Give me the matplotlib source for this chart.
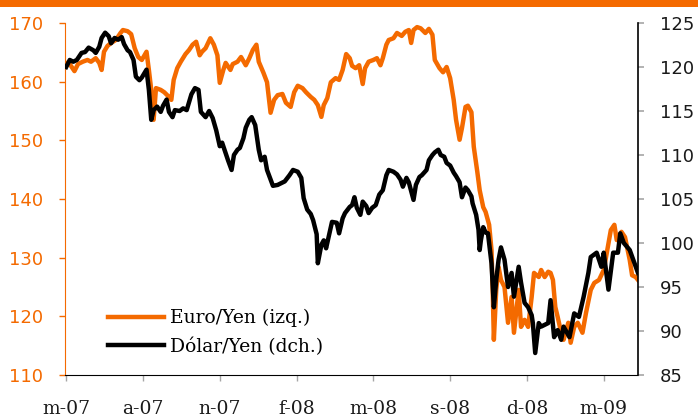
import matplotlib
matplotlib.use('Agg')
import matplotlib.pyplot as plt
from matplotlib.patches import Rectangle

# trading-day index (approx.), Euro/Yen (left axis)
eur_days = [0, 3, 7, 10, 14, 18, 21, 25, 28, 30, 32, 35, 38, 42, 46, 48, 52, 55, 58, 61,
            64, 68, 70, 72, 74, 76, 80, 83, 86, 89, 91, 94, 97, 101, 104, 107, 110, 113, 115, 118,
            122, 125, 128, 130, 133, 135, 139, 141, 145, 148, 152, 155, 158, 161, 163, 167, 170, 173, 176, 179,
            183, 186, 190, 193, 196, 200, 203, 207, 210, 213, 216, 218, 221, 224, 228, 231, 234, 237, 240, 242,
            245, 248, 251, 253, 256, 260, 263, 266, 268, 271, 273, 277, 280, 284, 287, 290, 292, 294, 297, 300,
            304, 307, 310, 312, 316, 319, 322, 325, 328, 330, 333, 335, 338, 340, 343, 345, 348, 350, 353, 355,
            358, 360, 361, 362, 364, 366, 368, 371, 374, 377, 379, 383, 385, 388, 391, 394, 396, 400, 402, 405,
            408, 410, 412, 414, 416, 419, 421, 425, 427, 430, 433, 437, 440, 444, 447, 451, 455, 459, 461, 464,
            466, 470, 473, 477, 479, 482, 484]
eur_yen = [163.2, 163.0, 161.8, 163.0, 163.4, 163.7, 163.4, 164.0, 163.2, 162.0, 165.1, 166.1, 166.6, 167.1, 168.3, 168.8, 168.6, 168.1, 165.7, 164.2,
           163.7, 165.1, 162.0, 158.6, 153.5, 158.9, 158.6, 158.2, 157.6, 156.9, 160.3, 162.3, 163.4, 164.7, 165.4, 166.3, 166.8, 164.5, 165.1, 165.7,
           167.4, 166.3, 164.5, 159.8, 162.0, 163.2, 162.0, 163.0, 163.4, 164.2, 162.8, 164.0, 165.4, 166.3, 163.4, 161.5, 159.9, 154.7, 156.9, 157.7,
           157.9, 156.4, 155.7, 158.2, 159.3, 158.9, 158.2, 157.4, 156.9, 156.0, 154.0, 156.0, 157.2, 159.9, 160.6, 160.3, 162.0, 164.7, 164.0, 162.7,
           162.3, 162.8, 159.6, 162.3, 163.4, 163.7, 164.0, 162.8, 164.0, 166.3, 167.1, 167.4, 168.3, 167.8, 168.5, 168.8, 166.6, 168.8, 169.3, 169.1,
           168.3, 169.0, 168.0, 163.7, 162.3, 161.6, 162.5, 160.6, 156.9, 153.5, 150.1, 152.1, 155.7, 155.9, 154.8, 148.9, 144.6, 141.5, 138.6, 137.8,
           135.6, 131.3, 124.5, 116.0, 124.5, 128.4, 126.2, 125.0, 118.9, 123.3, 117.2, 124.5, 118.2, 119.4, 118.2, 123.3, 127.4, 126.7, 127.9, 126.7,
           127.6, 127.4, 126.2, 121.6, 119.9, 117.2, 116.0, 118.9, 115.5, 118.2, 118.9, 117.2, 120.6, 124.5, 125.7, 126.2, 127.9, 132.5, 134.7, 135.6,
           133.0, 134.4, 133.5, 129.6, 127.0, 126.7, 126.2]

# Dolar/Yen (right axis)
usd_days = [0, 3, 6, 9, 13, 16, 19, 23, 25, 28, 30, 33, 36, 38, 41, 44, 47, 49, 52, 54,
            57, 59, 62, 64, 68, 70, 72, 74, 77, 80, 82, 85, 87, 90, 92, 96, 99, 102, 106, 109,
            112, 114, 118, 121, 124, 127, 130, 132, 135, 137, 140, 142, 145, 147, 150, 152, 155, 157, 160, 163,
            165, 168, 170, 173, 175, 179, 182, 185, 189, 192, 196, 199, 201, 204, 207, 209, 212, 213, 216, 218,
            220, 223, 225, 229, 231, 234, 236, 240, 242, 244, 246, 249, 251, 254, 256, 259, 262, 265, 268, 271,
            273, 277, 280, 283, 285, 288, 290, 294, 296, 299, 301, 305, 307, 310, 312, 315, 317, 320, 322, 325,
            328, 330, 333, 335, 338, 340, 343, 344, 347, 349, 350, 351, 353, 355, 357, 360, 362, 364, 366, 368,
            371, 374, 377, 379, 383, 385, 388, 391, 394, 395, 397, 400, 402, 405, 408, 410, 413, 416, 419, 421,
            426, 430, 434, 438, 442, 444, 449, 453, 455, 459, 463, 467, 469, 472, 477, 481, 484]
usd_yen = [120.0, 120.8, 120.6, 120.8, 121.6, 121.7, 122.2, 121.9, 121.6, 122.3, 123.3, 123.9, 123.5, 122.7, 123.3, 123.1, 123.4, 122.6, 121.9, 121.7,
           120.8, 118.9, 118.5, 118.8, 119.7, 117.4, 114.0, 115.1, 115.5, 114.9, 115.6, 116.3, 114.9, 114.3, 115.1, 115.0, 115.3, 115.1, 116.9, 117.6,
           117.4, 114.9, 114.3, 115.0, 114.2, 112.8, 111.0, 111.4, 110.2, 109.4, 108.3, 110.0, 110.6, 110.8, 111.9, 113.1, 114.0, 114.3, 113.4, 110.6,
           109.4, 109.8, 108.3, 107.2, 106.5, 106.6, 106.8, 107.0, 107.7, 108.3, 108.1, 107.4, 105.1, 103.8, 103.3, 102.6, 101.0, 97.7, 99.8, 100.3,
           99.4, 101.2, 102.4, 102.3, 101.1, 102.8, 103.4, 104.1, 104.3, 105.2, 104.0, 103.2, 104.7, 104.2, 103.4, 104.0, 104.3, 105.5, 106.0, 107.7,
           108.3, 108.1, 107.8, 107.2, 106.4, 107.4, 106.9, 104.9, 106.6, 107.5, 107.7, 108.3, 109.4, 110.0, 110.3, 110.6, 110.0, 109.8, 109.1, 108.8,
           108.0, 107.6, 106.9, 105.2, 106.3, 106.0, 105.3, 104.5, 103.2, 101.5, 99.2, 100.3, 101.8, 101.2, 101.1, 97.7, 92.7, 95.8, 98.1, 99.5,
           98.1, 95.0, 96.6, 93.9, 97.3, 95.5, 93.2, 92.7, 91.8, 90.9, 87.5, 90.9, 90.5, 90.7, 90.9, 93.5, 89.3, 90.1, 89.0, 90.5,
           89.3, 92.0, 91.6, 93.9, 96.6, 98.4, 98.9, 97.3, 98.9, 94.7, 98.9, 98.9, 101.1, 100.0, 99.2, 97.7, 96.6]

tick_days = [0, 65, 130, 195, 260, 325, 390, 455]
tick_labels = ['m-07', 'a-07', 'n-07', 'f-08', 'm-08', 's-08', 'd-08', 'm-09']

orange = '#F46A00'
grey = '#A6A6A6'

fig = plt.figure(figsize=(6.98, 4.2), dpi=100)
fig.patches.append(Rectangle((0, 1 - 7 / 420), 1, 7 / 420, transform=fig.transFigure,
                             facecolor=orange, edgecolor='none'))

ax1 = fig.add_axes([65 / 698, 45 / 420, 573 / 698, 352 / 420])
ax2 = ax1.twinx()

l1, = ax1.plot(eur_days, eur_yen, color=orange, lw=3.2, solid_joinstyle='round')
l2, = ax2.plot(usd_days, usd_yen, color='black', lw=3.2, solid_joinstyle='round')

ax1.set_xlim(-1, 484)
ax1.set_ylim(110, 170)
ax2.set_ylim(85, 125)
ax1.set_yticks(range(110, 171, 10))
ax2.set_yticks(range(85, 126, 5))
ax1.set_xticks(tick_days)
ax1.set_xticklabels(tick_labels, family='DejaVu Serif', fontsize=13.5)

for lab in ax1.get_yticklabels():
    lab.set_fontsize(13)
for lab in ax2.get_yticklabels():
    lab.set_fontsize(13)

ax1.tick_params(axis='y', colors=orange, length=4.5, width=1, pad=11, direction='out')
ax2.tick_params(axis='y', color=grey, labelcolor='#1a1a1a', length=4.5, width=1.2, pad=11, direction='out')
ax1.tick_params(axis='x', color=grey, labelcolor='#1a1a1a', length=4, width=1, pad=14)

ax1.spines['left'].set_color(orange)
ax1.spines['top'].set_visible(False)
ax2.spines['top'].set_visible(False)
ax2.spines['left'].set_visible(False)
ax2.spines['bottom'].set_visible(False)
ax1.spines['right'].set_visible(False)
ax1.spines['bottom'].set_color('black')
ax2.spines['right'].set_color('black')
ax2.spines['right'].set_linewidth(1.2)

leg = ax2.legend([l1, l2], ['Euro/Yen (izq.)', 'Dólar/Yen (dch.)'], loc='center left',
                 bbox_to_anchor=(0.075, 0.121), frameon=False, borderpad=0, borderaxespad=0,
                 handlelength=3.0, handletextpad=0.3, labelspacing=0.55,
                 prop={'family': 'DejaVu Serif', 'size': 13.5})

fig.savefig('out.png', dpi=100)
